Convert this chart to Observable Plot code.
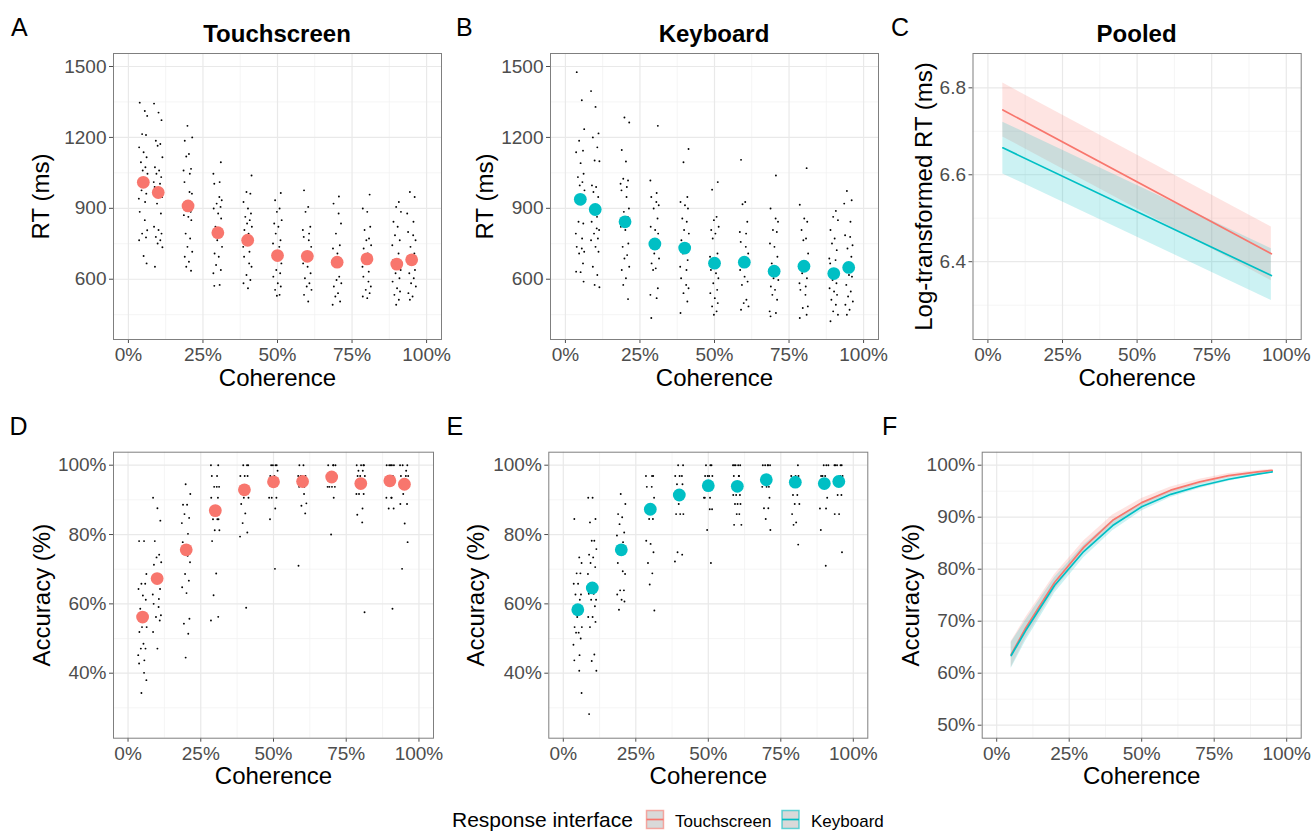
<!DOCTYPE html>
<html><head><meta charset="utf-8">
<script src="https://cdn.jsdelivr.net/npm/d3@7"></script>
<script src="https://cdn.jsdelivr.net/npm/@observablehq/plot@0.6"></script>
<style>
html,body{margin:0;padding:0;background:#fff;}
#wrap{position:relative;width:1312px;height:832px;overflow:hidden;font-family:"Liberation Sans",Arial,sans-serif;background:#fff;}
#overlay{position:absolute;left:0;top:0;pointer-events:none;}
</style></head><body><div id="wrap"></div>
<script>
// ---------------- DATA ----------------
const coherence = [0.05, 0.10, 0.20, 0.30, 0.40, 0.50, 0.60, 0.70, 0.80, 0.90, 0.95];
const xMajor = [0, 0.25, 0.5, 0.75, 1];
const xMinor = [0.125, 0.375, 0.625, 0.875];
const rtMajor = [600, 900, 1200, 1500];
const rtMinor = [450, 750, 1050, 1350];
const logMajor = [6.4, 6.6, 6.8];
const logMinor = [6.3, 6.5, 6.7];
const accMajor = [40, 60, 80, 100];
const accMinor = [30, 50, 70, 90];
const fitMajor = [50, 60, 70, 80, 90, 100];
const fitMinor = [55, 65, 75, 85, 95];
const jitter = [-0.012, 0.005, 0.013, -0.004, 0.009, -0.014, 0.001, 0.011, -0.008, 0.007, -0.002, 0.014, -0.011, 0.003, -0.006, 0.010, -0.015, 0.006];

const touchRTMean = [1010, 967, 910, 797, 765, 700, 697, 672, 686, 664, 682];
const keyRTMean = [938, 895, 843, 749, 732, 668, 672, 634, 655, 624, 650];
const touchAccMean = [56.2, 67.3, 75.6, 86.9, 92.9, 95.2, 95.3, 96.6, 94.7, 95.5, 94.5];
const keyAccMean = [58.3, 64.6, 75.6, 87.3, 91.4, 94.1, 93.9, 95.8, 95.1, 94.7, 95.3];

const touchRTRaw = [
  [1347,1312,1291,1214,1210,1158,1137,1116,1095,1074,1060,1046,1018,997,976,962,941,927,885,850,807,793,777,765,698,667],
  [1343,1305,1273,1186,1172,1165,1116,1074,1060,1046,1032,1011,1004,990,969,948,920,878,822,808,793,779,765,751,735,653],
  [1249,1200,1186,1130,1119,1067,1060,1046,1011,969,962,899,885,871,864,850,793,772,737,716,695,674,653,636],
  [1095,1046,1011,1004,948,934,920,906,899,878,857,822,793,765,737,709,695,660,639,625,576,572],
  [1039,969,962,927,899,878,864,850,836,822,808,793,779,765,737,716,695,667,653,618,597,583,562],
  [965,934,899,885,850,836,822,793,765,751,737,709,681,667,639,625,611,583,569,555,534,530],
  [976,906,885,822,808,793,779,765,737,709,688,667,653,625,604,583,569,555,534,506],
  [950,920,878,836,793,744,730,709,688,667,611,597,583,569,541,527,506,492],
  [958,899,885,822,808,772,765,744,730,709,688,674,653,632,611,590,569,555,541,527,520],
  [927,906,885,843,822,786,765,744,709,681,667,639,625,604,590,562,548,534,513,492],
  [969,948,878,843,800,786,765,737,709,688,667,639,625,604,583,569,541,527,513]
];
const keyRTRaw = [
  [1476,1357,1235,1186,1144,1137,1091,1046,1032,1011,997,976,941,917,843,836,793,772,737,730,716,709,667,632,630,590],
  [1396,1329,1217,1200,1158,1102,1099,997,990,969,948,892,864,843,815,808,793,772,765,737,716,653,618,576,566],
  [1284,1263,1147,1098,1025,1018,1004,990,976,948,899,885,864,822,808,751,737,702,688,653,639,604,576,516],
  [1249,1018,965,948,927,913,899,857,822,808,793,765,730,709,688,667,646,639,562,534,520,436],
  [1151,1095,948,927,913,899,857,843,808,793,765,751,709,681,653,639,604,576,562,541,506,457],
  [1011,979,864,850,822,808,793,772,709,695,667,639,625,604,583,555,541,520,499,485,464,450],
  [1105,927,917,843,800,793,758,737,709,688,674,639,611,590,576,513,499,485,471],
  [1039,899,857,843,808,800,751,737,695,667,646,604,597,569,555,534,513,464,457,443],
  [1070,915,857,843,808,772,765,709,667,653,625,604,583,569,555,534,485,478,450,436],
  [889,864,850,808,772,751,723,688,681,667,632,611,597,583,562,548,534,513,492,464,450,422],
  [973,934,920,843,786,779,744,730,695,653,618,611,576,548,527,506,492,471,450]
];
const touchAccRaw = [
  [78.1,78.1,68.6,65.8,65.8,64.3,62.4,61.2,58.6,55.7,53.3,53.3,51.9,48.5,47.1,47.1,45.2,43.7,42.8,40.1,38.0,34.3],
  [90.6,87.6,84.0,78.1,74.2,73.4,72.0,71.3,67.7,66.3,64.3,62.7,61.4,60.0,59.1,56.7,56.2,55.2,51.9,47.1],
  [94.5,91.7,88.6,88.6,85.9,84.8,83.3,80.2,77.8,73.9,72.0,68.6,66.7,64.8,63.1,55.7,54.3,51.4,44.5],
  [100,100,96.9,96.9,93.75,93.75,93.75,90.6,90.6,87.5,84.4,84.4,84.4,81.25,81.25,78.1,68.75,62.5,56.25,55.2],
  [100,100,100,96.9,96.9,96.9,93.75,93.75,90.6,90.6,88.8,86.1,83.3,80.6,79.4,58.9],
  [100,100,100,100,98.4,96.9,96.9,90.6,90.6,90.6,87.5,84.4,70.1],
  [100,100,96.9,96.9,96.9,93.75,93.75,91.7,89.0,88.3,86.1,71.0],
  [100,100,100,100,96.9,96.9,93.75,93.75,93.75,93.75,90.6,80.0],
  [100,100,100,100,98.4,98.4,96.9,96.9,96.9,95.5,91.7,91.7,91.7,87.5,85.7,83.5,57.6],
  [100,100,100,100,100,96.9,96.9,95.5,90.6,90.6,90.6,87.5,87.5,58.6],
  [100,100,100,98.4,96.9,96.9,96.9,91.7,88.8,88.8,83.2,77.8,70.1]
];
const keyAccRaw = [
  [84.5,73.4,71.8,68.8,68.8,65.8,65.8,62.7,62.7,61.2,56.2,53.3,53.3,51.7,51.7,50.0,48.2,45.2,43.7,40.7,34.3],
  [90.6,90.6,84.5,83.5,78.2,78.2,75.8,74.2,73.4,71.8,70.6,68.6,66.0,62.9,62.9,61.2,61.2,59.3,56.2,56.2,54.8,53.3,45.4,43.5,40.7,28.2],
  [91.7,88.8,85.9,85.0,83.0,80.6,79.7,77.8,71.8,69.4,68.6,63.9,63.9,62.7,61.2,60.7,58.3],
  [96.9,96.9,96.9,93.75,93.75,90.6,84.5,84.5,78.2,77.3,74.9,71.8,68.8,65.6,58.1],
  [100,100,96.9,96.9,96.9,94.5,94.5,90.6,88.8,85.9,85.9,85.9,74.9,74.2,72.2],
  [100,100,100,96.9,96.9,96.9,96.9,93.75,93.75,90.6,90.6,90.6,87.3,87.3,81.3,71.8],
  [100,100,100,100,100,96.9,96.9,96.9,94.5,91.4,91.4,91.4,88.8,88.8,88.8,85.9,85.9,82.8,82.8],
  [100,100,100,100,100,93.75,93.75,93.75,90.6,87.6,87.6,84.5,81.3],
  [100,96.9,96.9,96.9,91.4,91.4,88.8,88.8,85.9,83.5,82.8,77.1],
  [100,100,100,96.9,96.9,96.9,90.6,87.5,87.5,81.3,71.0],
  [100,100,100,100,100,96.9,96.9,91.4,91.4,85.9,85.9,74.9]
];

// Pooled log-RT model (panel C)
const pooledCoh = [0.05, 0.95];
const touchLogFit = [6.749, 6.418];
const touchLogLo = [6.687, 6.356];
const touchLogHi = [6.811, 6.480];
const keyLogFit = [6.662, 6.368];
const keyLogLo = [6.602, 6.311];
const keyLogHi = [6.721, 6.430];

// Pooled accuracy model (panel F), percent
const touchAccFit = [63.6, 68.7, 77.5, 84.2, 89.4, 92.8, 95.2, 96.8, 98.0, 98.7, 99.0];
const touchAccLo  = [61.1, 66.7, 76.0, 83.0, 88.4, 92.0, 94.6, 96.3, 97.6, 98.4, 98.8];
const touchAccHi  = [66.1, 70.7, 79.0, 85.4, 90.4, 93.6, 95.8, 97.3, 98.4, 99.0, 99.2];
const keyAccFit = [63.4, 68.2, 76.9, 83.4, 88.4, 92.0, 94.4, 96.0, 97.3, 98.3, 98.7];
const keyAccLo  = [60.9, 66.2, 75.4, 82.2, 87.4, 91.2, 93.8, 95.5, 96.9, 98.0, 98.5];
const keyAccHi  = [65.9, 70.2, 78.4, 84.6, 89.4, 92.8, 95.0, 96.5, 97.7, 98.6, 98.9];

const groups = ["Touchscreen", "Keyboard"];
const TOUCH = "#F8766D", KEY = "#00BFC4";
const FONT = '"Liberation Sans", Arial, Helvetica, sans-serif';

// ---------------- LAYOUT ----------------
const G = {
  A: {left: 0,   top: 45,  width: 446, height: 350, frame: {l: 113,   r: 441,    t: 53,    b: 339}},
  B: {left: 446, top: 45,  width: 434, height: 350, frame: {l: 550,   r: 878,    t: 53,    b: 339}},
  C: {left: 880, top: 45,  width: 432, height: 350, frame: {l: 972.5, r: 1300.7, t: 53,    b: 339}},
  D: {left: 0,   top: 440, width: 446, height: 350, frame: {l: 113,   r: 433,    t: 451.7, b: 737.7}},
  E: {left: 446, top: 440, width: 434, height: 350, frame: {l: 548.3, r: 867.3,  t: 451.7, b: 737.7}},
  F: {left: 880, top: 440, width: 432, height: 350, frame: {l: 981.7, r: 1300.7, t: 451.7, b: 737.7}}
};

const wrap = document.getElementById("wrap");
const pct = d => Math.round(d * 100) + "%";
const pctRaw = d => Math.round(d) + "%";

function rawRows(raw) {
  return raw.flatMap((vals, k) => vals.map((v, i) => ({x: coherence[k] + jitter[(i + 5 * k) % jitter.length], y: v})));
}
function meanRows(means) {
  return means.map((v, k) => ({x: coherence[k], y: v}));
}

function makePanel(g, cfg) {
  const f = g.frame;
  const plot = Plot.plot({
    width: g.width, height: g.height,
    marginLeft: f.l - g.left, marginRight: g.left + g.width - f.r,
    marginTop: f.t - g.top, marginBottom: g.top + g.height - f.b,
    style: {fontFamily: FONT, fontSize: "19px", color: "#4d4d4d", background: "transparent", overflow: "visible"},
    x: {domain: [-0.05, 1.05], ticks: xMajor, tickFormat: pct, tickSize: 4, tickPadding: 4, label: null},
    y: {domain: cfg.yDomain, ticks: cfg.yMajor, tickFormat: cfg.yFmt, tickSize: 4, tickPadding: 3, label: null},
    marks: [
      Plot.ruleX(xMinor, {stroke: "#f3f3f3", strokeWidth: 0.8}),
      Plot.ruleY(cfg.yMinor, {stroke: "#f3f3f3", strokeWidth: 0.8}),
      Plot.ruleX(xMajor, {stroke: "#e9e9e9", strokeWidth: 1.2}),
      Plot.ruleY(cfg.yMajor, {stroke: "#e9e9e9", strokeWidth: 1.2}),
      ...cfg.marks,
      Plot.frame({stroke: "#7f7f7f", strokeWidth: 1}),
      Plot.text([cfg.ylab], {text: d => d, frameAnchor: "left", textAnchor: "middle", lineAnchor: "middle", rotate: -90, dx: cfg.ylabDx, fontSize: 24, fill: "black"}),
      Plot.text(["Coherence"], {text: d => d, frameAnchor: "bottom", textAnchor: "middle", lineAnchor: "middle", dy: cfg.xlabDy, fontSize: 24, fill: "black"})
    ]
  });
  plot.style.position = "absolute";
  plot.style.left = g.left + "px";
  plot.style.top = g.top + "px";
  wrap.appendChild(plot);
}

function scatterMarks(raw, means, color) {
  return [
    Plot.dot(rawRows(raw), {x: "x", y: "y", r: 0.95, fill: "black"}),
    Plot.dot(meanRows(means), {x: "x", y: "y", r: 6.4, fill: color})
  ];
}

const logRows = groups.flatMap((gname, gi) => pooledCoh.map((c, k) => ({
  group: gname, x: c,
  y: (gi ? keyLogFit : touchLogFit)[k],
  lo: (gi ? keyLogLo : touchLogLo)[k],
  hi: (gi ? keyLogHi : touchLogHi)[k]
})));
const accFitRows = groups.flatMap((gname, gi) => coherence.map((c, k) => ({
  group: gname, x: c,
  y: (gi ? keyAccFit : touchAccFit)[k],
  lo: (gi ? keyAccLo : touchAccLo)[k],
  hi: (gi ? keyAccHi : touchAccHi)[k]
})));

function modelMarks(rows) {
  return [
    Plot.areaY(rows.filter(d => d.group === "Touchscreen"), {x: "x", y1: "lo", y2: "hi", fill: TOUCH, fillOpacity: 0.2}),
    Plot.areaY(rows.filter(d => d.group === "Keyboard"), {x: "x", y1: "lo", y2: "hi", fill: KEY, fillOpacity: 0.2}),
    Plot.line(rows.filter(d => d.group === "Touchscreen"), {x: "x", y: "y", stroke: TOUCH, strokeWidth: 1.7}),
    Plot.line(rows.filter(d => d.group === "Keyboard"), {x: "x", y: "y", stroke: KEY, strokeWidth: 1.7})
  ];
}

makePanel(G.A, {yDomain: [345, 1555], yMajor: rtMajor, yMinor: rtMinor, yFmt: d => String(d), ylab: "RT (ms)", ylabDx: -72, xlabDy: 39,
  marks: scatterMarks(touchRTRaw, touchRTMean, TOUCH)});
makePanel(G.B, {yDomain: [345, 1555], yMajor: rtMajor, yMinor: rtMinor, yFmt: d => String(d), ylab: "RT (ms)", ylabDx: -65, xlabDy: 39,
  marks: scatterMarks(keyRTRaw, keyRTMean, KEY)});
makePanel(G.C, {yDomain: [6.221, 6.879], yMajor: logMajor, yMinor: logMinor, yFmt: d3.format(".1f"), ylab: "Log-transformed RT (ms)", ylabDx: -48.5, xlabDy: 39,
  marks: modelMarks(logRows)});
makePanel(G.D, {yDomain: [21.25, 103.75], yMajor: accMajor, yMinor: accMinor, yFmt: pctRaw, ylab: "Accuracy (%)", ylabDx: -71, xlabDy: 38.5,
  marks: scatterMarks(touchAccRaw, touchAccMean, TOUCH)});
makePanel(G.E, {yDomain: [21.25, 103.75], yMajor: accMajor, yMinor: accMinor, yFmt: pctRaw, ylab: "Accuracy (%)", ylabDx: -72, xlabDy: 38.5,
  marks: scatterMarks(keyAccRaw, keyAccMean, KEY)});
makePanel(G.F, {yDomain: [47.5, 102.5], yMajor: fitMajor, yMinor: fitMinor, yFmt: pctRaw, ylab: "Accuracy (%)", ylabDx: -71, xlabDy: 38.5,
  marks: modelMarks(accFitRows)});

// ---------------- OVERLAY: letters, titles, legend ----------------
const titles = [
  {t: "Touchscreen", x: (G.A.frame.l + G.A.frame.r) / 2},
  {t: "Keyboard", x: (G.B.frame.l + G.B.frame.r) / 2},
  {t: "Pooled", x: (G.C.frame.l + G.C.frame.r) / 2}
];
const letters = [
  {t: "A", x: 11, y: 36}, {t: "B", x: 456, y: 36}, {t: "C", x: 891, y: 36},
  {t: "D", x: 9.5, y: 434.5}, {t: "E", x: 446.5, y: 434.5}, {t: "F", x: 882, y: 434.5}
];
let svg = `<svg id="overlay" width="1312" height="832" xmlns="http://www.w3.org/2000/svg" font-family='${FONT}'>`;
for (const l of letters) svg += `<text x="${l.x}" y="${l.y}" font-size="25" fill="black">${l.t}</text>`;
for (const t of titles) svg += `<text x="${t.x}" y="41.5" font-size="24" font-weight="bold" text-anchor="middle" fill="black">${t.t}</text>`;
svg += `<text x="452" y="827" font-size="21" fill="black">Response interface</text>`;
const legendItems = [{t: groups[0], c: TOUCH, kx: 646.5, tx: 675}, {t: groups[1], c: KEY, kx: 782, tx: 811}];
for (const it of legendItems) {
  svg += `<rect x="${it.kx}" y="810.5" width="17" height="18" fill="#d9d9d9" stroke="${it.c}" stroke-opacity="0.6" stroke-width="1.5"/>`;
  svg += `<line x1="${it.kx}" x2="${it.kx + 17}" y1="819.5" y2="819.5" stroke="${it.c}" stroke-width="1.7"/>`;
  svg += `<text x="${it.tx}" y="826.5" font-size="17" fill="black">${it.t}</text>`;
}
svg += `</svg>`;
wrap.insertAdjacentHTML("beforeend", svg);
</script></body></html>
